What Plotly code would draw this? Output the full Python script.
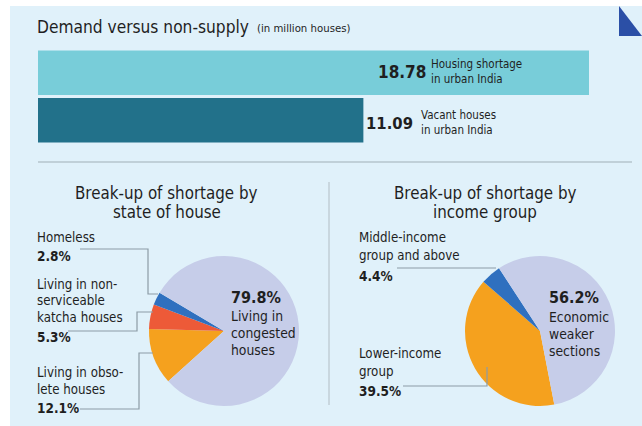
import plotly.graph_objects as go

# ---------------- data ----------------
bar_categories = ["Housing shortage", "Vacant houses"]
bar_values = [18.78, 11.09]
bar_label_lines = [["Housing shortage", "in urban India"], ["Vacant houses", "in urban India"]]
bar_colors = ["#78cdd9", "#22718a"]

pie1_labels = ["Living in obsolete houses", "Living in non-serviceable katcha houses", "Homeless", "Living in congested houses"]
pie1_values = [12.1, 5.3, 2.8, 79.8]
pie2_labels = ["Lower-income group", "Middle-income group and above", "Economic weaker sections"]
pie2_values = [39.5, 4.4, 56.2]
pie_colors1 = ["#f5a11e", "#ed5a38", "#2f70bf", "#c6cde9"]
pie_colors2 = ["#f5a11e", "#2f70bf", "#c6cde9"]

W, H = 642, 426
FONT = "Liberation Sans Narrow, DejaVu Sans Condensed, DejaVu Sans, sans-serif"
DARK = "#1f1f1f"
LINEC = "#8c9ca6"


def px(x):
    return x / W


def py(y):
    return 1 - y / H


fig = go.Figure()

# bars
fig.add_trace(go.Bar(
    y=bar_categories, x=bar_values, orientation="h",
    marker=dict(color=bar_colors, line=dict(width=0)),
    hoverinfo="skip", showlegend=False,
))

# pies
def pie_domain(cx, cy, r):
    return dict(x=[px(cx - r), px(cx + r)], y=[py(cy + r), py(cy - r)])


fig.add_trace(go.Pie(
    labels=pie1_labels, values=pie1_values, sort=False, direction="clockwise",
    rotation=-132, marker=dict(colors=pie_colors1, line=dict(width=0)),
    textinfo="none", hoverinfo="skip", showlegend=False,
    domain=pie_domain(224, 331, 75),
))
fig.add_trace(go.Pie(
    labels=pie2_labels, values=pie2_values, sort=False, direction="clockwise",
    rotation=169, marker=dict(colors=pie_colors2, line=dict(width=0)),
    textinfo="none", hoverinfo="skip", showlegend=False,
    domain=pie_domain(540, 331, 75),
))

annotations = []


def txt(x, y, s, size=13.2, bold=False, anchor="left", color=DARK):
    if bold:
        s = "<b>" + s + "</b>"
    shift = {"left": -2, "right": 2, "center": 0}[anchor]
    annotations.append(dict(
        x=px(x + shift), y=py(y), xref="paper", yref="paper", text=s, showarrow=False,
        xanchor=anchor, yanchor="middle",
        font=dict(family=FONT, size=size, color=color),
    ))


# header
txt(37, 27, "Demand versus non-supply", size=17.2)
txt(257, 28, "(in million houses)", size=11.3)

# bar labels
txt(426, 72, f"{bar_values[0]:.2f}", size=17, bold=True, anchor="right")
txt(431, 64, bar_label_lines[0][0], size=11.5)
txt(431, 79, bar_label_lines[0][1], size=11.5)
txt(413, 123, f"{bar_values[1]:.2f}", size=16.5, bold=True, anchor="right")
txt(421, 115, bar_label_lines[1][0], size=11.5)
txt(421, 130, bar_label_lines[1][1], size=11.5)

# pie titles
txt(167, 193, "Break-up of shortage by", size=16.8, anchor="center")
txt(167, 212, "state of house", size=16.8, anchor="center")
txt(485, 193, "Break-up of shortage by", size=16.8, anchor="center")
txt(485, 212, "income group", size=16.8, anchor="center")

# left pie labels
txt(37, 238, "Homeless")
txt(37, 256, f"{pie1_values[2]}%", size=13.5, bold=True)
txt(37, 284, "Living in non-")
txt(37, 300, "serviceable")
txt(37, 317, "katcha houses")
txt(37, 337, f"{pie1_values[1]}%", size=13.5, bold=True)
txt(37, 372, "Living in obso-")
txt(37, 389, "lete houses")
txt(37, 408, f"{pie1_values[0]}%", size=13.5, bold=True)
txt(231, 297, f"{pie1_values[3]}%", size=16, bold=True)
txt(231, 316, "Living in", size=13.8)
txt(231, 333, "congested", size=13.8)
txt(231, 350, "houses", size=13.8)

# right pie labels
txt(359, 238, "Middle-income")
txt(359, 255, "group and above")
txt(359, 276, f"{pie2_values[1]}%", size=13.5, bold=True)
txt(359, 353, "Lower-income")
txt(359, 371, "group")
txt(359, 391, f"{pie2_values[0]}%", size=13.5, bold=True)
txt(549, 297, f"{pie2_values[2]}%", size=16, bold=True)
txt(549, 317, "Economic", size=13.8)
txt(549, 334, "weaker", size=13.8)
txt(549, 351, "sections", size=13.8)

shapes = []
# background panel
shapes.append(dict(type="rect", xref="paper", yref="paper", x0=px(10), x1=px(W), y0=py(H), y1=py(6),
                   fillcolor="#e0f1fa", line=dict(width=0), layer="below"))
# corner triangle
shapes.append(dict(type="path", xref="paper", yref="paper",
                   path=f"M {px(619)},{py(6)} L {px(619)},{py(36)} L {px(642)},{py(36)} Z",
                   fillcolor="#2b4fa6", line=dict(width=0), layer="above"))
# dividers
shapes.append(dict(type="line", xref="paper", yref="paper", x0=px(38), x1=px(632), y0=py(162), y1=py(162),
                   line=dict(color="#b6c4cc", width=1.5)))
shapes.append(dict(type="line", xref="paper", yref="paper", x0=px(329), x1=px(329), y0=py(182), y1=py(405),
                   line=dict(color="#c2ced6", width=1.5)))


def leader(points):
    d = "M " + " L ".join(f"{px(x)},{py(y)}" for x, y in points)
    shapes.append(dict(type="path", xref="paper", yref="paper", path=d,
                       line=dict(color=LINEC, width=1.2), layer="above"))


leader([(80, 249), (148, 249), (148, 294), (158, 294)])
leader([(68, 331), (137, 331), (137, 312), (153, 312)])
leader([(80, 409), (139, 409), (139, 353), (153, 353)])
leader([(397, 268), (496, 268)])
leader([(403, 386), (487, 386), (487, 367)])

fig.update_layout(
    width=W, height=H, margin=dict(l=0, r=0, t=0, b=0),
    paper_bgcolor="white", plot_bgcolor="rgba(0,0,0,0)",
    xaxis=dict(domain=[px(38), px(589)], range=[0, bar_values[0]], visible=False, fixedrange=True),
    yaxis=dict(domain=[py(144), py(49)], autorange="reversed", visible=False, fixedrange=True),
    bargap=0.06,
    annotations=annotations, shapes=shapes,
)

fig.write_html("out.html")
